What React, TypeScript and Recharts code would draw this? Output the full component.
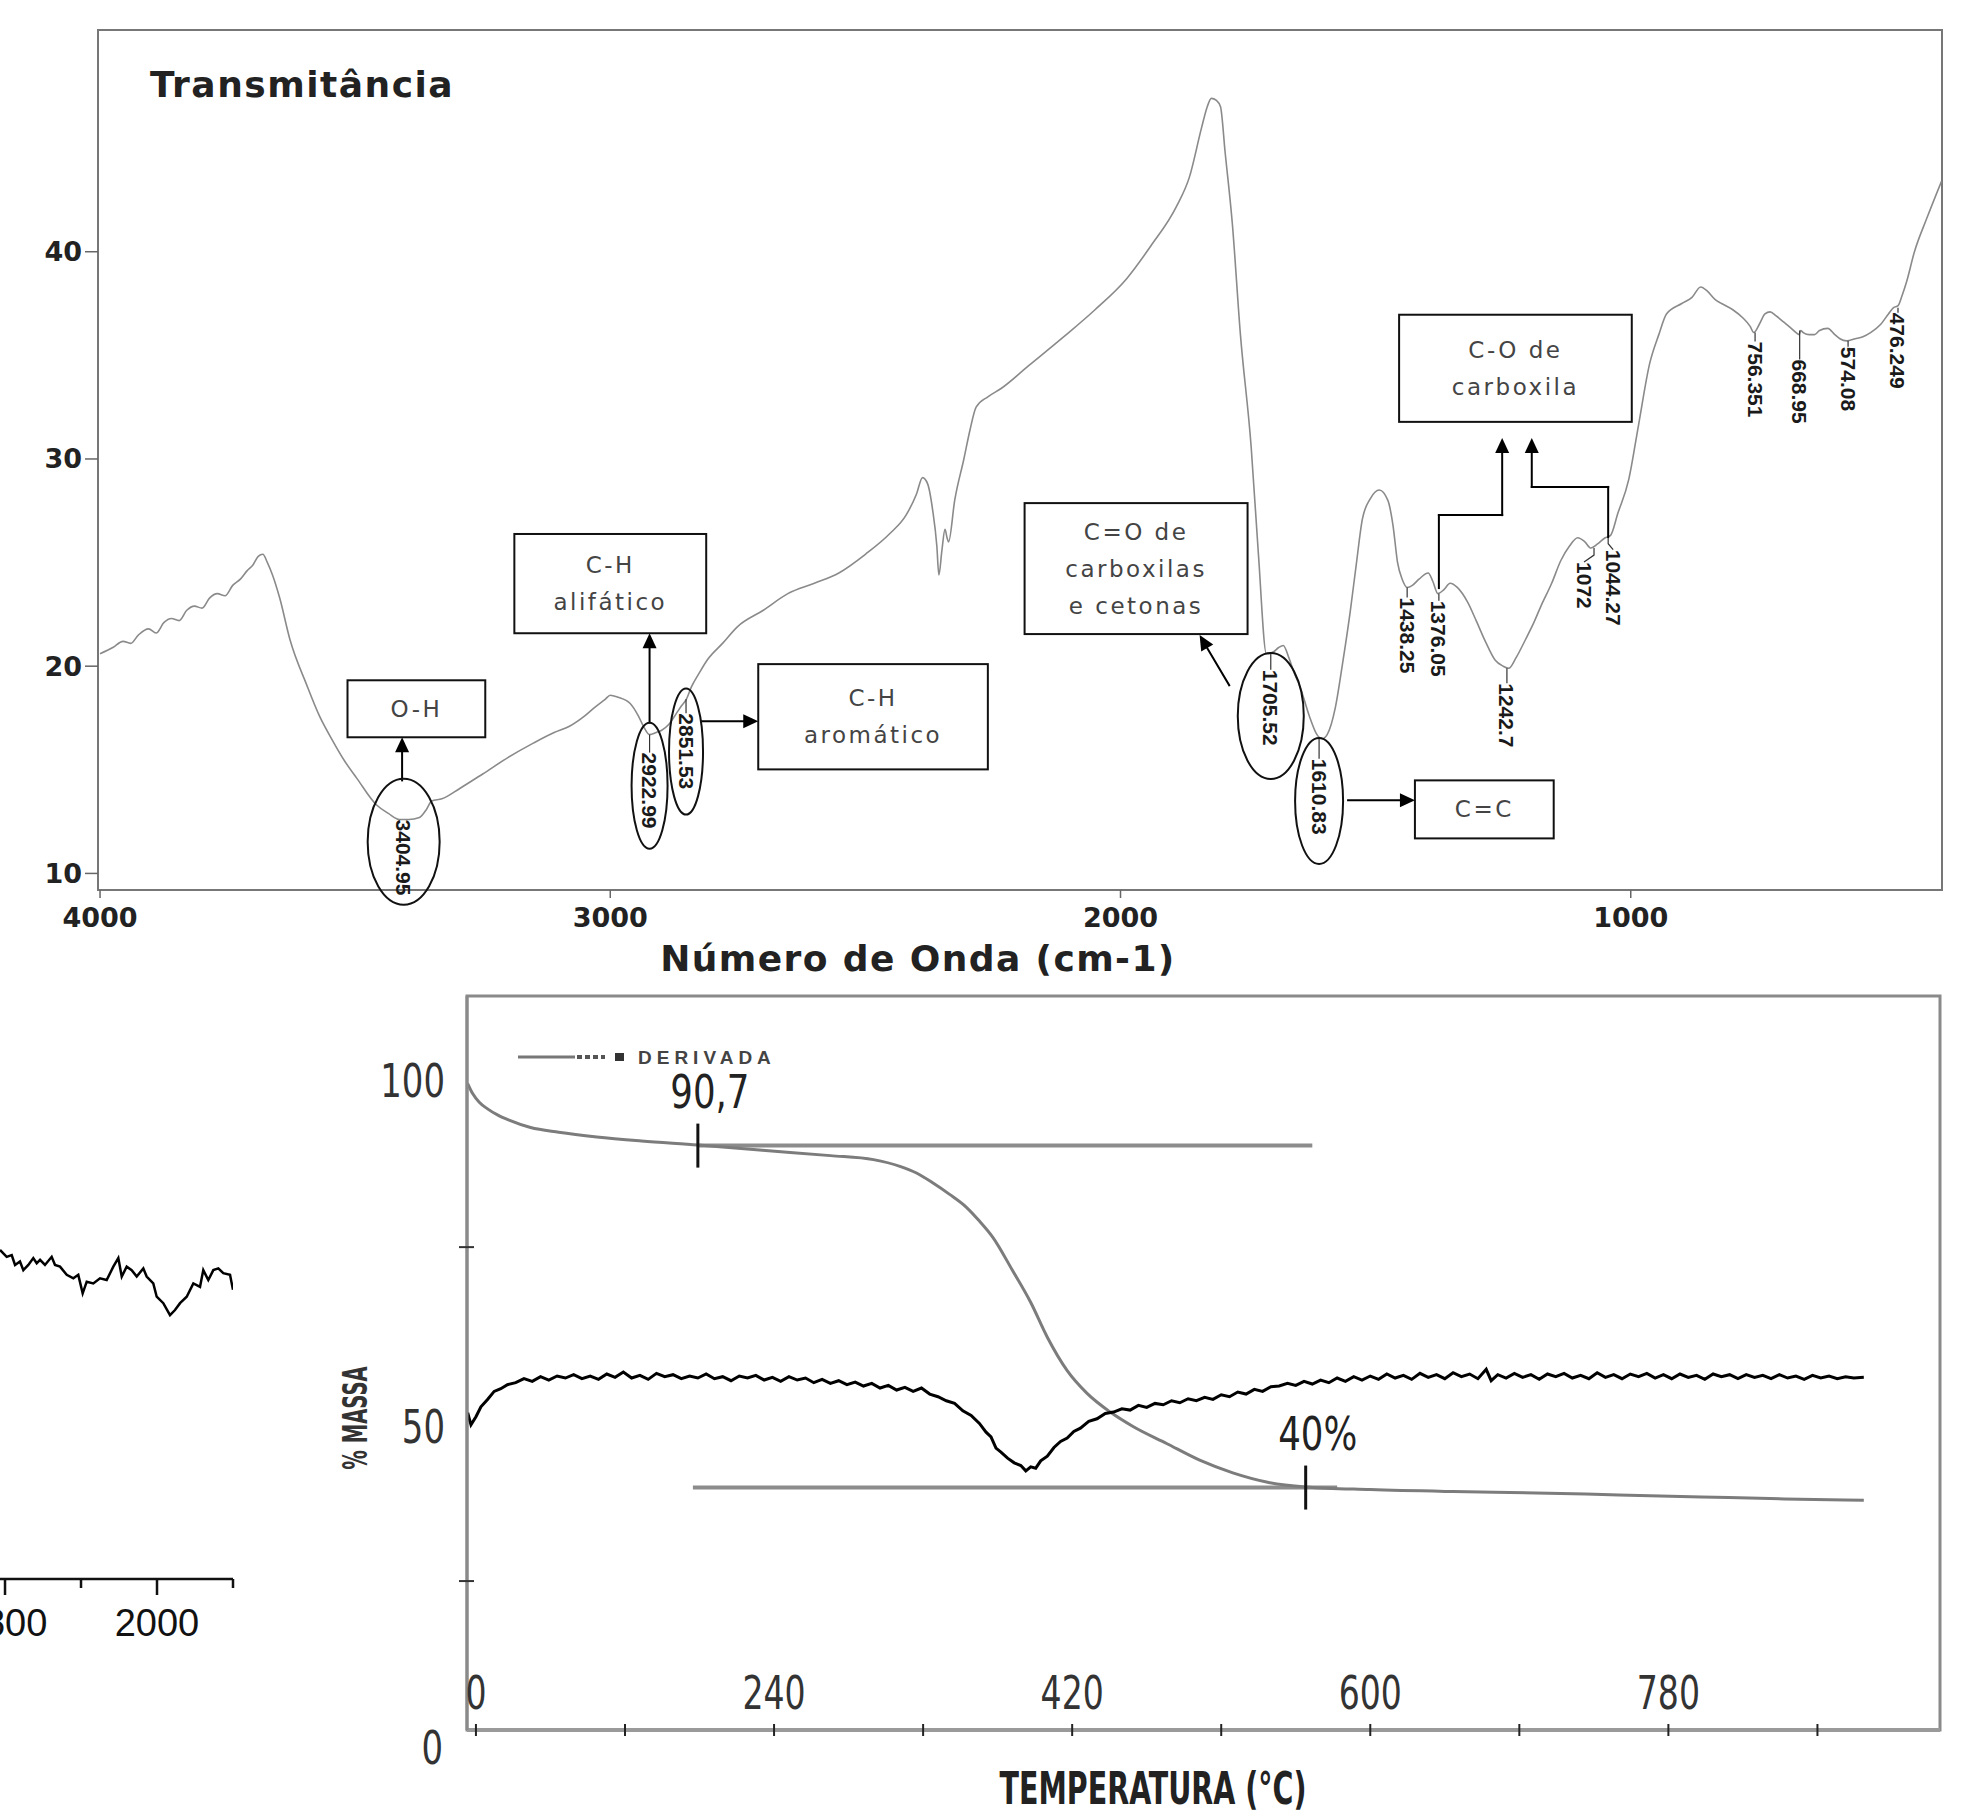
import React from 'react';
import { LineChart, Line, XAxis, YAxis, ReferenceArea, ReferenceLine, ReferenceDot } from 'recharts';

// ---------------- FTIR spectrum (top) ----------------
const ftirCurve: [number, number][] = [
  [4000, 20.6], [3975, 20.9], [3955, 21.2], [3940, 21.1], [3925, 21.5], [3905, 21.8], [3890, 21.6], [3875, 22.1],
  [3860, 22.3], [3845, 22.2], [3830, 22.7], [3815, 22.9], [3800, 22.8], [3785, 23.3], [3770, 23.5], [3755, 23.4],
  [3740, 23.9], [3725, 24.2], [3712, 24.6], [3700, 24.9], [3690, 25.3], [3681, 25.4], [3672, 25.0], [3662, 24.4],
  [3648, 23.3], [3628, 21.3], [3595, 19.1], [3570, 17.6], [3544, 16.4], [3520, 15.4], [3497, 14.6], [3458, 13.3],
  [3435, 12.9], [3413, 12.6], [3395, 12.6], [3374, 12.7], [3360, 13.1], [3350, 13.5], [3330, 13.6], [3295, 14.1],
  [3250, 14.8], [3200, 15.6], [3150, 16.3], [3110, 16.8], [3080, 17.1], [3050, 17.6], [3031, 18.0], [3010, 18.4],
  [3000, 18.6], [2985, 18.5], [2961, 18.2], [2945, 17.6], [2935, 17.1], [2923, 16.7], [2910, 16.8], [2900, 16.9],
  [2885, 17.2], [2871, 17.7], [2860, 18.1], [2851, 18.4], [2841, 19.0], [2825, 19.7], [2810, 20.3], [2780, 21.1],
  [2751, 21.9], [2700, 22.7], [2652, 23.5], [2600, 24.0], [2552, 24.5], [2500, 25.4], [2452, 26.4], [2420, 27.3],
  [2400, 28.3], [2388, 29.1], [2378, 28.8], [2368, 27.5], [2360, 25.8], [2356, 24.4], [2350, 25.6], [2344, 26.6],
  [2340, 26.2], [2337, 26.0], [2325, 28.0], [2307, 30.0], [2295, 31.4], [2283, 32.5], [2260, 33.0], [2234, 33.4],
  [2180, 34.5], [2111, 35.9], [2050, 37.2], [1988, 38.7], [1940, 40.3], [1890, 42.2], [1865, 43.6], [1841, 46.0],
  [1830, 47.0], [1822, 47.4], [1812, 47.3], [1804, 47.0], [1795, 44.8], [1781, 41.4], [1765, 36.0], [1744, 30.6],
  [1730, 25.5], [1714, 20.6], [1700, 20.7], [1690, 20.9], [1681, 21.0], [1670, 20.4], [1660, 19.7], [1648, 19.0],
  [1630, 17.6], [1615, 16.7], [1605, 16.5], [1595, 16.7], [1579, 18.0], [1565, 20.1], [1550, 22.6], [1538, 24.9],
  [1526, 27.1], [1510, 28.1], [1493, 28.5], [1476, 28.0], [1466, 26.8], [1457, 25.0], [1448, 24.2], [1438, 23.8],
  [1428, 23.9], [1415, 24.2], [1397, 24.5], [1388, 24.1], [1378, 23.5], [1366, 23.7], [1354, 24.0], [1340, 23.8],
  [1320, 23.1], [1303, 22.2], [1285, 21.2], [1266, 20.3], [1250, 20.0], [1239, 19.9], [1225, 20.4], [1206, 21.3],
  [1190, 22.1], [1176, 22.9], [1155, 24.0], [1137, 25.1], [1120, 25.8], [1104, 26.2], [1090, 26.0], [1078, 25.7],
  [1065, 25.9], [1050, 26.2], [1040, 26.3], [1025, 27.4], [1004, 29.0], [985, 31.6], [963, 34.6], [945, 36.0],
  [930, 37.0], [900, 37.5], [880, 37.8], [863, 38.3], [850, 38.1], [835, 37.7], [822, 37.5], [800, 37.2],
  [780, 36.8], [766, 36.4], [759, 36.1], [748, 36.5], [737, 37.0], [727, 37.1], [715, 36.9], [700, 36.6],
  [690, 36.4], [676, 36.1], [670, 36.0], [667, 36.2], [662, 36.1], [650, 36.0], [640, 36.0], [630, 36.2],
  [614, 36.3], [600, 36.0], [590, 35.8], [577, 35.7], [560, 35.8], [545, 35.9], [530, 36.1], [510, 36.5],
  [495, 37.0], [485, 37.3], [476, 37.4], [468, 37.9], [460, 38.5], [444, 40.0], [420, 41.6], [391, 43.4],
];
const ftirXTicks = [4000, 3000, 2000, 1000];
const ftirYTicks = [10, 20, 30, 40];

const peakWavenumbers = [3404.95, 2922.99, 2851.53, 1705.52, 1610.83, 1438.25, 1376.05, 1242.7, 1072, 1044.27, 756.351, 668.95, 574.08, 476.249];
const peakValues = [12.6, 16.7, 18.4, 20.6, 16.5, 23.8, 23.5, 19.9, 25.7, 26.2, 36.1, 36.2, 35.7, 37.3];
const peakLabels = ['3404.95', '2922.99', '2851.53', '1705.52', '1610.83', '1438.25', '1376.05', '1242.7', '1072', '1044.27', '756.351', '668.95', '574.08', '476.249'];

const bandTexts = [['O-H'], ['C-H', 'alifático'], ['C-H', 'aromático'], ['C=O de', 'carboxilas', 'e cetonas'], ['C=C'], ['C-O de', 'carboxila']];
const bandWaveFrom = [3515, 3188, 2710, 2188, 1423, 1454];
const bandWaveTo = [3245, 2812, 2260, 1751, 1151, 998];
const bandTop = [19.32, 26.38, 20.1, 27.87, 14.49, 36.96];
const bandBottom = [16.57, 21.59, 15.02, 21.55, 11.69, 31.79];

const arrowPaths: [number, number][][] = [
  [[3408, 14.49], [3408, 16.57]],
  [[2922.99, 17.29], [2922.99, 21.59]],
  [[2822, 17.34], [2710, 17.34]],
  [[1787, 19.08], [1845, 21.5]],
  [[1554, 13.53], [1423, 13.53]],
  [[1376.05, 23.77], [1376.05, 27.29], [1252, 27.29], [1252, 31.01]],
  [[1044.27, 26.23], [1044.27, 28.65], [1194, 28.65], [1194, 31.01]],
];

// ---------------- TGA (bottom right) ----------------
const tgaCurve: [number, number][] = [
  [55, 99.5], [58, 98.0], [62, 96.7], [67, 95.7], [73, 94.8], [80, 94.0], [93, 92.9], [110, 92.2], [133, 91.5],
  [160, 90.9], [194, 90.3], [233, 89.5], [274, 88.7], [300, 88.1], [316, 87.1], [326, 86.1], [336, 84.6], [346, 82.9],
  [356, 81.0], [364, 78.9], [372, 76.5], [384, 71.5], [395, 66.7], [405, 61.5], [417, 56.5], [429, 53.1], [443, 50.3],
  [457, 48.1], [477, 45.6], [497, 43.1], [517, 41.2], [538, 39.8], [561, 39.1], [600, 38.7], [650, 38.4], [700, 38.2],
  [750, 37.9], [800, 37.6], [850, 37.3], [898, 37.1],
];
const derivativeCurve: [number, number][] = [
  [55, 50.2], [57, 48.4], [60, 49.6], [63, 51.1], [67, 52.2], [71, 53.4], [75, 53.8], [79, 54.4], [84, 54.7], [89, 55.3],
  [94, 54.9], [99, 55.6], [104, 55.1], [109, 55.7], [114, 55.4], [119, 55.9], [124, 55.3], [129, 55.7], [134, 55.2], [139, 56.0],
  [144, 55.5], [149, 56.3], [154, 55.4], [159, 55.8], [164, 55.2], [169, 56.1], [174, 55.6], [179, 55.9], [184, 55.3], [189, 55.7],
  [194, 55.4], [199, 56.0], [204, 55.3], [209, 55.6], [214, 55.0], [219, 55.7], [224, 55.4], [229, 55.8], [234, 55.1], [239, 55.5],
  [244, 54.9], [249, 55.6], [254, 55.1], [259, 55.4], [264, 54.7], [269, 55.2], [274, 54.6], [279, 55.0], [284, 54.4], [289, 54.8],
  [294, 54.2], [299, 54.6], [304, 53.9], [309, 54.3], [314, 53.6], [319, 54.0], [324, 53.4], [329, 53.9], [334, 53.0], [339, 52.6],
  [344, 52.0], [349, 51.6], [354, 50.5], [359, 49.8], [364, 48.6], [368, 47.3], [371, 46.6], [374, 44.9], [377, 44.3], [381, 43.4],
  [385, 42.7], [389, 42.3], [392, 41.5], [395, 42.1], [398, 41.9], [401, 43.0], [405, 43.7], [409, 45.0], [413, 45.9], [417, 46.4],
  [421, 47.4], [425, 47.9], [430, 48.9], [435, 49.3], [440, 50.1], [445, 50.3], [450, 50.8], [455, 50.6], [460, 51.3], [465, 51.0],
  [470, 51.6], [475, 51.4], [480, 52.0], [485, 51.7], [490, 52.3], [495, 52.0], [500, 52.5], [505, 52.2], [510, 52.9], [515, 52.6],
  [520, 53.3], [525, 53.0], [530, 53.7], [535, 53.4], [540, 54.1], [545, 54.2], [550, 54.6], [555, 54.3], [560, 54.9], [565, 54.5],
  [570, 55.1], [575, 54.7], [580, 55.4], [585, 54.9], [590, 55.6], [595, 55.1], [600, 55.7], [605, 55.2], [610, 56.0], [615, 55.4],
  [620, 55.8], [625, 55.2], [630, 56.1], [635, 55.5], [640, 55.9], [645, 55.3], [650, 56.2], [655, 55.6], [660, 56.0], [665, 55.3],
  [670, 56.7], [673, 55.0], [677, 55.9], [682, 55.4], [687, 56.1], [692, 55.5], [697, 55.9], [702, 55.2], [707, 56.0], [712, 55.6],
  [717, 56.1], [722, 55.4], [727, 55.8], [732, 55.3], [737, 56.2], [742, 55.5], [747, 55.9], [752, 55.3], [757, 56.0], [762, 55.6],
  [767, 56.1], [772, 55.4], [777, 55.9], [782, 55.3], [787, 56.0], [792, 55.5], [797, 55.8], [802, 55.2], [807, 56.0], [812, 55.6],
  [817, 55.9], [822, 55.3], [827, 55.9], [832, 55.5], [837, 55.8], [842, 55.3], [847, 55.9], [852, 55.4], [857, 55.7], [862, 55.2],
  [867, 55.8], [872, 55.4], [877, 55.7], [882, 55.3], [887, 55.6], [892, 55.4], [898, 55.5],
];
const tgaXTicks = [60, 150, 240, 330, 420, 510, 600, 690, 780, 870];
const tgaXTickLabels = ['0', '', '240', '', '420', '', '600', '', '780', ''];
const tgaYTicks = [25, 50, 75, 100];
const tgaYTickLabels = ['', '50', '', '100'];
const tgaYZeroLabel = '0';
const tgaMarkTemps = [194, 561];
const tgaMarkValues = [90.2, 39.0];
const tgaMarkLabels = ['90,7', '40%'];
const tgaLineStart = [194, 191];
const tgaLineEnd = [565, 580];

// ---------------- partial spectrum (bottom left) ----------------
const leftCurve: [number, number][] = [
  [1793.4, 76.7], [1802.2, 75.1], [1808.8, 75.5], [1813.2, 73.2], [1819.7, 74.0], [1824.1, 72.0], [1830.7, 73.2], [1837.2, 74.8],
  [1841.7, 73.6], [1846.1, 74.4], [1852.6, 73.2], [1861.4, 75.1], [1865.8, 73.2], [1872.4, 72.8], [1881.2, 70.9], [1889.9, 70.1],
  [1896.4, 70.9], [1902.2, 66.6], [1907.5, 69.3], [1916.2, 68.9], [1925, 70.1], [1933.8, 69.7], [1942.5, 72.8], [1949.1, 74.8],
  [1953.6, 70.5], [1960.1, 72.8], [1966.7, 72.0], [1973.3, 70.5], [1982, 72.4], [1986.4, 70.5], [1995.1, 68.9], [1999.6, 65.8],
  [2008.3, 64.3], [2017.1, 61.5], [2023.7, 62.7], [2030.3, 64.3], [2039.1, 65.8], [2047.8, 68.9], [2056.6, 68.1], [2060.9, 72.0],
  [2067.5, 69.7], [2074.1, 72.0], [2080.7, 72.4], [2087.2, 71.3], [2096.1, 70.9], [2100, 67.4],
];
const leftXTicks = [1800, 1900, 2000, 2100];
const leftXTickLabels = ['1800', '', '2000', ''];

// ---------------- styles ----------------
const BOLD_WIDE = "'DejaVu Sans', Verdana, sans-serif";
const NARROW = "'DejaVu Sans Condensed', 'DejaVu Sans', sans-serif";
const ARIAL = "'Liberation Sans', Arial, sans-serif";
const PEAK_GAP: Record<string, number> = {
  '3404.95': 0, '2922.99': 18, '2851.53': 14, '1705.52': 16, '1610.83': 20, '1438.25': 10, '1376.05': 7,
  '1242.7': 15, '1072': 14, '1044.27': 12, '756.351': 9, '668.95': 29, '574.08': 6, '476.249': 5,
};
const PEAK_DX: Record<string, number> = { '1072': -10, '1044.27': 5 };
const ELLIPSE_RX: Record<string, number> = { '3404.95': 36, '2922.99': 18, '2851.53': 17, '1705.52': 33, '1610.83': 24 };
const ELLIPSE_DY: Record<string, number> = { '3404.95': -16, '2922.99': -5, '2851.53': 0, '1705.52': 8, '1610.83': 4 };
const TGA_Y_LABEL_DY: Record<string, number> = { '50': 12, '100': 0 };

const toRows = (pts: [number, number][], xk: string) => pts.map(([x, v]) => ({ [xk]: x, v }));
const ftirData = toRows(ftirCurve, 'w');
const tgaData = toRows(tgaCurve, 't');
const derivData = toRows(derivativeCurve, 't');
const leftData = toRows(leftCurve, 'w');

const PeakMark = ({ cx, cy, label }: any) => {
  const gap = PEAK_GAP[label] ?? 8;
  const dx = PEAK_DX[label] ?? 0;
  const fs = 21;
  const len = label.length * fs * 0.52;
  const rx = ELLIPSE_RX[label];
  const tx = cx + dx;
  return (
    <g>
      {gap > 3 && <polyline points={`${cx},${cy} ${cx},${cy + gap * 0.5} ${tx},${cy + gap}`} fill="none" stroke="#333" strokeWidth={1.2} />}
      <text transform={`translate(${tx},${cy + gap}) rotate(90)`} x={0} y={0} textAnchor="start" dominantBaseline="central"
        fontFamily={ARIAL} fontWeight="bold" fontSize={fs} fill="#1a1a1a">{label}</text>
      {rx ? <ellipse cx={tx} cy={cy + gap + len / 2 + (ELLIPSE_DY[label] ?? 0)} rx={rx} ry={63} fill="none" stroke="#111" strokeWidth={2} /> : null}
    </g>
  );
};

const bandShape = (lines: string[]) => (p: any) => {
  const { x, y, width, height } = p;
  const mx = x + width / 2;
  const my = y + height / 2;
  return (
    <g>
      <rect x={x} y={y} width={width} height={height} fill="none" stroke="#111" strokeWidth={2} />
      {lines.map((t, i) => (
        <text key={i} x={mx} y={my + (i - (lines.length - 1) / 2) * 37} textAnchor="middle" dominantBaseline="central"
          fontFamily={BOLD_WIDE} fontSize={23} letterSpacing={2.5} fill="#444">{t}</text>
      ))}
    </g>
  );
};

const arrowShape = (head: boolean) => (p: any) => {
  const { x1, y1, x2, y2 } = p;
  const dx = x2 - x1, dy = y2 - y1;
  const L = Math.hypot(dx, dy) || 1;
  const ux = dx / L, uy = dy / L;
  const hl = 15, hw = 7;
  const bx = x2 - ux * hl, by = y2 - uy * hl;
  return (
    <g>
      <line x1={x1} y1={y1} x2={head ? bx : x2} y2={head ? by : y2} stroke="#000" strokeWidth={2} strokeLinecap="square" />
      {head && <polygon points={`${x2},${y2} ${bx - uy * hw},${by + ux * hw} ${bx + uy * hw},${by - ux * hw}`} fill="#000" />}
    </g>
  );
};

const FtirXTick = (p: any) => {
  const { x, y, payload } = p;
  return (
    <g>
      <line x1={x} x2={x} y1={y} y2={y + 8} stroke="#666" strokeWidth={1.5} />
      <text x={x} y={y + 27} textAnchor="middle" dominantBaseline="central" fontFamily={BOLD_WIDE} fontWeight="bold" fontSize={27} fill="#222">{payload.value}</text>
    </g>
  );
};
const FtirYTick = (p: any) => {
  const { x, y, payload } = p;
  return (
    <g>
      <line x1={x - 13} x2={x} y1={y} y2={y} stroke="#666" strokeWidth={1.5} />
      <text x={x - 16} y={y} textAnchor="end" dominantBaseline="central" fontFamily={BOLD_WIDE} fontWeight="bold" fontSize={27} fill="#222">{payload.value}</text>
    </g>
  );
};

const NarrowText = ({ x, y, anchor = 'middle', size = 46, sx = 0.8, fill = '#333', children }: any) => (
  <text transform={`translate(${x},${y}) scale(${sx},1)`} x={0} y={0} textAnchor={anchor} dominantBaseline="central"
    fontFamily={NARROW} fontSize={size} fill={fill}>{children}</text>
);

const TgaXTick = (p: any) => {
  const { x, y, payload } = p;
  const i = tgaXTicks.indexOf(payload.value);
  const label = i >= 0 ? tgaXTickLabels[i] : '';
  return (
    <g>
      <line x1={x} x2={x} y1={y - 6} y2={y + 6} stroke="#222" strokeWidth={2} />
      {label && <NarrowText x={x} y={y - 37}>{label}</NarrowText>}
    </g>
  );
};
const TgaYTick = (p: any) => {
  const { x, y, payload } = p;
  const i = tgaYTicks.indexOf(payload.value);
  const label = i >= 0 ? tgaYTickLabels[i] : '';
  return (
    <g>
      {!label && <line x1={x - 8} x2={x + 7} y1={y} y2={y} stroke="#333" strokeWidth={2} />}
      {label && <NarrowText x={x - 22} y={y + 1 + (TGA_Y_LABEL_DY[label] ?? 0)} anchor="end" sx={0.82}>{label}</NarrowText>}
    </g>
  );
};

const TgaMark = ({ cx, cy, label }: any) => (
  <g>
    <line x1={cx} x2={cx} y1={cy - 22} y2={cy + 22} stroke="#111" strokeWidth={3} />
    <NarrowText x={cx + 12} y={cy - 54} sx={0.86} fill="#222">{label}</NarrowText>
  </g>
);

const LeftTick = (p: any) => {
  const { x, y, payload } = p;
  const i = leftXTicks.indexOf(payload.value);
  const label = i >= 0 ? leftXTickLabels[i] : '';
  return (
    <g>
      <line x1={x} x2={x} y1={y} y2={y + (label ? 16 : 9)} stroke="#111" strokeWidth={2.5} />
      {label && <text x={x} y={y + 44} textAnchor="middle" dominantBaseline="central" fontFamily={ARIAL} fontSize={38} fill="#111">{label}</text>}
    </g>
  );
};

const abs = (left: number, top: number, extra: React.CSSProperties = {}): React.CSSProperties => ({ position: 'absolute', left, top, ...extra });

export default function App() {
  return (
    <div style={{ position: 'absolute', left: 0, top: 0, width: 1965, height: 1818, background: '#fff', overflow: 'hidden' }}>
      {/* FTIR */}
      <div style={abs(0, 0)}>
        <LineChart width={1965} height={1000} margin={{ top: 30, right: 23, bottom: 0, left: 0 }}>
          <XAxis type="number" dataKey="w" domain={[390, 4004]} allowDataOverflow reversed ticks={ftirXTicks} interval={0}
            height={110} tickSize={0} tickMargin={0} tickLine={false} axisLine={{ stroke: '#777', strokeWidth: 2 }} tick={(p: any) => <FtirXTick {...p} />} />
          <YAxis type="number" domain={[9.2, 50.7]} allowDataOverflow ticks={ftirYTicks} interval={0}
            width={98} tickSize={0} tickMargin={0} tickLine={false} axisLine={{ stroke: '#777', strokeWidth: 2 }} tick={(p: any) => <FtirYTick {...p} />} />
          <ReferenceArea x1={390} x2={4004} y1={9.2} y2={50.7} ifOverflow="visible" fill="none" stroke="#777" strokeWidth={2} fillOpacity={0} />
          <Line data={ftirData} dataKey="v" type="monotone" stroke="#8a8a8a" strokeWidth={1.6} dot={false} isAnimationActive={false} />
          {bandTexts.map((lines, i) => (
            <ReferenceArea key={`b${i}`} x1={bandWaveFrom[i]} x2={bandWaveTo[i]} y1={bandBottom[i]} y2={bandTop[i]} ifOverflow="visible" shape={bandShape(lines)} />
          ))}
          {arrowPaths.flatMap((path, ai) =>
            path.slice(1).map((pt, si) => (
              <ReferenceLine key={`a${ai}-${si}`} ifOverflow="visible"
                segment={[{ x: path[si][0], y: path[si][1] }, { x: pt[0], y: pt[1] }]}
                shape={arrowShape(si === path.length - 2)} />
            ))
          )}
          {peakWavenumbers.map((w, i) => (
            <ReferenceDot key={`p${i}`} x={w} y={peakValues[i]} r={0} ifOverflow="visible"
              shape={(p: any) => <PeakMark cx={p.cx} cy={p.cy} label={peakLabels[i]} />} />
          ))}
        </LineChart>
      </div>
      <div style={abs(150, 85, { transform: 'translateY(-50%)', fontFamily: BOLD_WIDE, fontWeight: 'bold', fontSize: 36, letterSpacing: 1.5, color: '#222', whiteSpace: 'nowrap', lineHeight: 1 })}>Transmitância</div>
      <div style={abs(918, 959, { transform: 'translate(-50%,-50%)', fontFamily: BOLD_WIDE, fontWeight: 'bold', fontSize: 36, letterSpacing: 1.4, color: '#222', whiteSpace: 'nowrap', lineHeight: 1 })}>Número de Onda (cm-1)</div>

      {/* TGA */}
      <div style={abs(0, 960)}>
        <LineChart width={1965} height={858} margin={{ top: 36, right: 25, bottom: 68, left: 367 }}>
          <XAxis type="number" dataKey="t" domain={[54.6, 944]} allowDataOverflow ticks={tgaXTicks} interval={0}
            height={20} tickSize={0} tickMargin={0} tickLine={false} axisLine={{ stroke: '#9a9a9a', strokeWidth: 4 }} tick={(p: any) => <TgaXTick {...p} />} />
          <YAxis type="number" domain={[2.7, 112.6]} allowDataOverflow ticks={tgaYTicks} interval={0}
            width={100} tickSize={0} tickMargin={0} tickLine={false} axisLine={{ stroke: '#8a8a8a', strokeWidth: 3 }} tick={(p: any) => <TgaYTick {...p} />} />
          <ReferenceArea x1={54.6} x2={944} y1={2.7} y2={112.6} ifOverflow="visible" fill="none" fillOpacity={0} stroke="#8a8a8a" strokeWidth={3} />
          {tgaMarkTemps.map((t, i) => (
            <ReferenceLine key={`h${i}`} ifOverflow="visible" segment={[{ x: tgaLineStart[i], y: tgaMarkValues[i] }, { x: tgaLineEnd[i], y: tgaMarkValues[i] }]}
              stroke="#8c8c8c" strokeWidth={4} />
          ))}
          <Line data={tgaData} dataKey="v" type="monotone" stroke="#7c7c7c" strokeWidth={3} dot={false} isAnimationActive={false} />
          <Line data={derivData} dataKey="v" type="linear" stroke="#000" strokeWidth={3} dot={false} isAnimationActive={false} />
          {tgaMarkTemps.map((t, i) => (
            <ReferenceDot key={`m${i}`} x={t} y={tgaMarkValues[i]} r={0} ifOverflow="visible"
              shape={(p: any) => <TgaMark cx={p.cx} cy={p.cy} label={tgaMarkLabels[i]} />} />
          ))}
          <ReferenceDot x={54.6} y={0} r={0} ifOverflow="visible"
            shape={(p: any) => <NarrowText x={p.cx - 24} y={p.cy} anchor="end" sx={0.82}>{tgaYZeroLabel}</NarrowText>} />
        </LineChart>
      </div>
      <svg style={abs(500, 1042)} width={320} height={30}>
        <line x1={18} x2={75} y1={15} y2={15} stroke="#777" strokeWidth={3} />
        <line x1={77} x2={105} y1={15} y2={15} stroke="#555" strokeWidth={4} strokeDasharray="5 3" />
        <rect x={115} y={11} width={9} height={8} fill="#333" />
        <text x={138} y={15} dominantBaseline="central" fontFamily={ARIAL} fontWeight="bold" fontSize={19} letterSpacing={5} fill="#444">DERIVADA</text>
      </svg>
      <div style={abs(355, 1418, { transform: 'translate(-50%,-50%) rotate(-90deg) scaleX(0.64)', fontFamily: NARROW, fontWeight: 'bold', fontSize: 34, color: '#333', whiteSpace: 'nowrap', lineHeight: 1 })}>% MASSA</div>
      <div style={abs(1153, 1789, { transform: 'translate(-50%,-50%) scaleX(0.72)', fontFamily: NARROW, fontWeight: 'bold', fontSize: 44, color: '#222', whiteSpace: 'nowrap', lineHeight: 1.1 })}>TEMPERATURA (°C)</div>

      {/* partial chart bottom left */}
      <div style={abs(0, 1150)}>
        <LineChart width={240} height={500} margin={{ top: 0, right: 7, bottom: 0, left: 0 }}>
          <XAxis type="number" dataKey="w" domain={[1793.4, 2100]} allowDataOverflow ticks={leftXTicks} interval={0}
            height={71} tickSize={0} tickMargin={0} tickLine={false} axisLine={{ stroke: '#111', strokeWidth: 2.5 }} tick={(p: any) => <LeftTick {...p} />} />
          <YAxis hide type="number" domain={[0, 100]} allowDataOverflow />
          <Line data={leftData} dataKey="v" type="linear" stroke="#000" strokeWidth={2.5} dot={false} isAnimationActive={false} />
        </LineChart>
      </div>
    </div>
  );
}
